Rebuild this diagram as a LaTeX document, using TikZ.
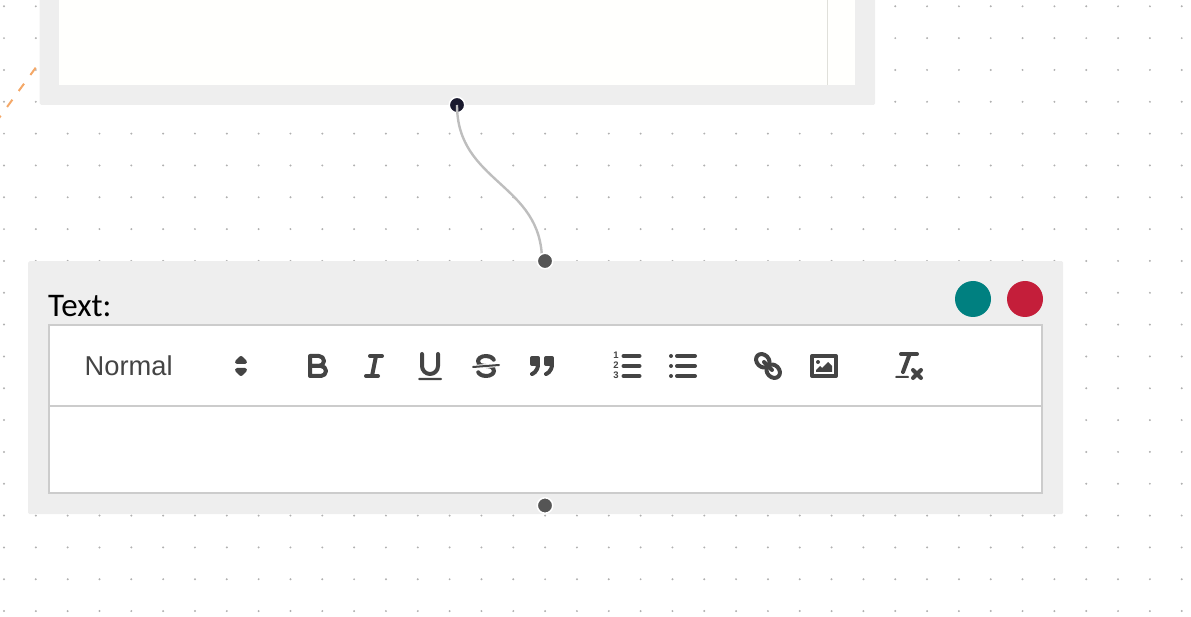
\documentclass[tikz,border=0pt]{standalone}
\usepackage{fontspec}
\setmainfont{Carlito}
\newfontfamily\barfont{Liberation Sans}
\definecolor{panelgrey}{HTML}{EEEEEE}
\definecolor{bordergrey}{HTML}{CCCCCC}
\definecolor{icongrey}{HTML}{444444}
\definecolor{dotgrey}{HTML}{B0B0B0}
\definecolor{linkgrey}{HTML}{BEBEBE}
\definecolor{sheetwhite}{HTML}{FFFFFD}
\definecolor{sheetrule}{HTML}{E0E0DA}
\definecolor{dashorange}{HTML}{F4A868}
\definecolor{navyport}{HTML}{1A1A2E}
\definecolor{portgrey}{HTML}{555555}
\definecolor{tealdot}{HTML}{008080}
\definecolor{reddot}{HTML}{C41E3A}
\tikzset{
  panel/.style={fill=panelgrey,rounded corners=1.5pt,inner sep=0pt},
  barbox/.style={draw=bordergrey,line width=2pt,fill=white,inner sep=0pt,anchor=north west},
  port/.style={circle,draw=white,line width=1.5pt,inner sep=0pt,minimum size=15.5pt},
  button/.style={circle,inner sep=0pt,minimum size=36pt},
  icon-at/.style={shift={#1},x=2pt,y=-2pt},
  iconline/.style={draw=icongrey,line width=4pt,line cap=round,line join=round},
  iconthin/.style={draw=icongrey,line width=2pt,line cap=round,line join=round},
  iconfill/.style={fill=icongrey},
  digit/.style={font=\barfont\bfseries\fontsize{9.5}{9.5}\selectfont,text=icongrey,inner sep=0pt}
}
\begin{document}
\begin{tikzpicture}[x=1pt,y=-1pt]
\useasboundingbox (0,0) rectangle (1191,617);
\clip (0,0) rectangle (1191,617);
% Dotted canvas
\foreach \i in {0,...,37}
  \foreach \j in {0,...,19}
    \fill[dotgrey] (4+31.83*\i,6.3+31.83*\j) circle (1.1pt);
% Dashed line on the left
\coordinate (dash-start) at (35.7,67.7);
\coordinate (dash-end) at (-3.6,121.6);
\draw[dashorange,line width=2pt,dash pattern=on 9pt off 10.8pt] (dash-start) -- (dash-end);
% Upper panel
\node[panel,anchor=south west,minimum width=835.5pt,minimum height=125pt] (upper-panel) at (39.5,105) {};
\node[fill=sheetwhite,inner sep=0pt,anchor=south west,minimum width=796pt,minimum height=105pt] (upper-sheet) at (59,85) {};
\draw[sheetrule,line width=1pt] (827.5,0) -- (827.5,85);
% Lower panel
\node[panel,anchor=north west,minimum width=1035pt,minimum height=253pt] (lower-panel) at (28,261) {};
\node[anchor=base west,inner sep=0pt,font=\fontsize{33}{33}\selectfont] (text-label) at (48,316.5) {Text:};
\node[button,fill=tealdot] (save-button) at (973,299) {};
\node[button,fill=reddot] (delete-button) at (1025,299) {};
\node[barbox,minimum width=992.7pt,minimum height=81pt] (tool-bar) at (48,324) {};
\node[barbox,minimum width=992.7pt,minimum height=87pt] (text-area) at (48,405) {};
\node[anchor=base west,inner sep=0pt,text=icongrey,font=\barfont\fontsize{27.3}{27.3}\selectfont] (style-label) at (84.5,375) {Normal};
% Ports and curve
\coordinate (curve-end) at (542,261);
\node[port,fill=navyport] (upper-port) at (457,105) {};
\draw[linkgrey,line width=2.4pt] (upper-port.center) .. controls (457,183) and (542,183) .. (curve-end);
\node[port,fill=portgrey] (lower-port) at (545,261) {};
\node[port,fill=portgrey] (bottom-port) at (545,505.5) {};
% Style picker
\begin{scope}[icon-at={(223,348)}]
\filldraw[iconline,iconfill] (7,11) -- (9,13) -- (11,11) -- cycle;
\filldraw[iconline,iconfill] (7,7) -- (9,5) -- (11,7) -- cycle;
\end{scope}
% Bold
\begin{scope}[icon-at={(300,348)}]
\draw[iconline] (5,4) -- (9.5,4) .. controls (10.88,4) and (12,5.12) .. (12,6.5) .. controls (12,7.88) and (10.88,9) .. (9.5,9) -- (5,9) -- cycle;
\draw[iconline] (5,9) -- (10.5,9) .. controls (11.88,9) and (13,10.12) .. (13,11.5) .. controls (13,12.88) and (11.88,14) .. (10.5,14) -- (5,14) -- cycle;
\end{scope}
% Italic
\begin{scope}[icon-at={(356,348)}]
\draw[iconline] (7,4) -- (13,4);
\draw[iconline] (5,14) -- (11,14);
\draw[iconline] (8,14) -- (10,4);
\end{scope}
% Underline
\begin{scope}[icon-at={(412,348)}]
\draw[iconline] (5,3) -- (5,9) .. controls (5,11.2) and (6.8,13) .. (9,13) .. controls (11.2,13) and (13,11.2) .. (13,9) -- (13,3);
\fill[iconfill,rounded corners=1pt] (3,15) rectangle (15,16);
\end{scope}
% Strike
\begin{scope}[icon-at={(468,348)}]
\draw[iconthin] (15.5,8.5) -- (2.5,9.5);
\fill[iconfill] (9,8) .. controls (6.54,7.79) and (6,7.52) .. (6,6.5) .. controls (6,5.79) and (7.28,5) .. (9,5) .. controls (10.57,5) and (11.77,5.68) .. (11.97,6.31) .. controls (12.3,7.3) and (14.2,6.7) .. (13.87,5.69) .. controls (13.36,4.11) and (11.35,3) .. (9,3) .. controls (6.2,3) and (4,4.54) .. (4,6.5) .. controls (4,7.2) and (4.2,7.8) .. (4.5,8.34) -- cycle;
\fill[iconfill] (9,10) .. controls (11.46,10.21) and (12,10.48) .. (12,11.5) .. controls (12,12.21) and (10.72,13) .. (9,13) .. controls (7.43,13) and (6.23,12.32) .. (6.03,11.69) .. controls (5.7,10.7) and (3.8,11.3) .. (4.13,12.31) .. controls (4.64,13.89) and (6.65,15) .. (9,15) .. controls (11.8,15) and (14,13.46) .. (14,11.5) .. controls (14,10.8) and (13.8,10.2) .. (13.5,9.66) -- cycle;
\end{scope}
% Quote
\begin{scope}[icon-at={(524,348)}]
\foreach \q in {0,7} {
  \filldraw[iconline,iconfill] (4+\q,5) rectangle (7+\q,8);
  \draw[iconline] (7+\q,8) .. controls (7+\q,12.03) and (4+\q,13) .. (4+\q,13);
}
\end{scope}
% Ordered list
\begin{scope}[icon-at={(609.5,348)}]
\foreach \r in {4,9,14}
  \draw[iconline] (7,\r) -- (15,\r);
\end{scope}
\node[digit] (digit-one) at (616,355.5) {1};
\node[digit] (digit-two) at (616,365.5) {2};
\node[digit] (digit-three) at (616,375.5) {3};
% Bullet list
\begin{scope}[icon-at={(665,348)}]
\foreach \r in {4,9,14} {
  \draw[iconline] (6,\r) -- (15,\r);
  \fill[iconfill] (3,\r) circle (2pt);
}
\end{scope}
% Link
\begin{scope}[icon-at={(750,348)}]
\draw[iconline] (7,7) -- (11,11);
\draw[iconline,rotate around={45:(6.4,6.4)}] (6.4,6.4) ellipse (6pt and 7.4pt);
\draw[iconline,rotate around={45:(11.6,11.6)}] (11.6,11.6) ellipse (6pt and 7.4pt);
\end{scope}
% Image
\begin{scope}[icon-at={(806,348)}]
\draw[iconline] (3,4) rectangle (15,14);
\fill[iconfill] (6,7) circle (2pt);
\fill[iconfill] (5,12) -- (5,11) -- (7,9) -- (8,10) -- (11,7) -- (13,9) -- (13,12) -- cycle;
\end{scope}
% Clear format
\begin{scope}[icon-at={(891,348)}]
\draw[iconline] (5,3) -- (13,3);
\draw[iconline] (6,12) -- (9.35,3);
\draw[iconline] (11,11) -- (15,15);
\draw[iconline] (15,11) -- (11,15);
\fill[iconfill,rounded corners=1pt] (2,14) rectangle (9,15);
\end{scope}
\end{tikzpicture}
\end{document}
